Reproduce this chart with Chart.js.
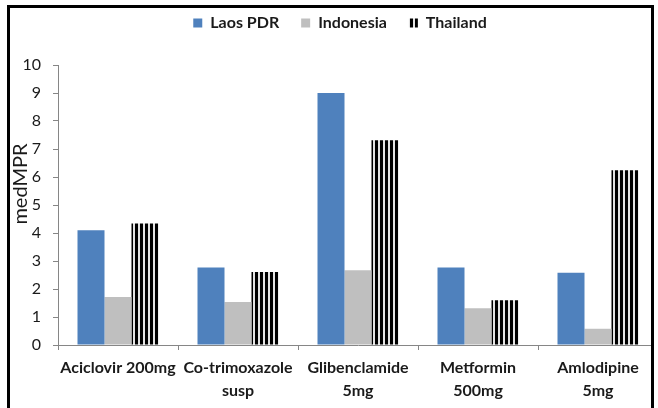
<!DOCTYPE html>
<html>
<head>
<meta charset="utf-8">
<script src="https://cdn.jsdelivr.net/npm/chart.js@4/dist/chart.umd.min.js"></script>
<style>
  html, body { margin: 0; padding: 0; background: #fff; overflow: hidden; width: 658px; height: 408px; }
  #wrap { position: relative; width: 658px; height: 408px; overflow: hidden; }
  #c { position: absolute; left: 0; top: 0; }
  #frame {
    position: absolute; left: 7px; top: 5px; width: 641px; height: 420px;
    border: 3px solid #000; box-shadow: 0 0 0 200px #fff; pointer-events: none;
  }
</style>
</head>
<body>
<div id="wrap">
  <canvas id="c" width="700" height="408"></canvas>
  <div id="frame"></div>
</div>
<script>
// Median price ratios by medicine and country
const categories = [
  ['Aciclovir 200mg'],
  ['Co-trimoxazole', 'susp'],
  ['Glibenclamide', '5mg'],
  ['Metformin', '500mg'],
  ['Amlodipine', '5mg']
];
const seriesNames = ['Laos PDR', 'Indonesia', 'Thailand'];
const laosValues      = [4.10, 2.77, 9.00, 2.77, 2.58];
const indonesiaValues = [1.71, 1.54, 2.67, 1.31, 0.58];
const thailandValues  = [4.34, 2.61, 7.31, 1.60, 6.24];
const yTicks = [0, 1, 2, 3, 4, 5, 6, 7, 8, 9, 10];
const yTitle = 'medMPR';

// Vertical stripe fill for the Thailand series
function stripePattern(ctx) {
  const p = document.createElement('canvas');
  p.width = 5; p.height = 4;
  const g = p.getContext('2d');
  g.fillStyle = '#e4e4e4';
  g.fillRect(0, 0, 5, 4);
  g.fillStyle = '#000';
  g.fillRect(0, 0, 3, 4);
  return ctx.createPattern(p, 'repeat');
}

const canvas = document.getElementById('c');
const ctx = canvas.getContext('2d');
const axisGrey = '#868686';
const textColor = '#1a1a1a';

// Empty layout box that leaves a gap between the legend and the plot
const legendGap = {
  id: 'legendGap',
  beforeInit(chart) {
    const box = {
      position: 'top', weight: 500, fullSize: true,
      options: { stack: undefined, stackWeight: 1 },
      width: 0, height: 0, left: 0, top: 0, right: 0, bottom: 0,
      isHorizontal() { return true; },
      getPadding() { return { top: 0, left: 0, bottom: 0, right: 0 }; },
      update(maxWidth) { this.width = maxWidth; this.height = 24; return { width: this.width, height: this.height }; },
      draw() {}
    };
    Chart.layouts.addBox(chart, box);
  },
  // nudge the legend row so it sits centred over the frame
  afterLayout(chart) {
    if (chart.legend) { chart.legend.left += 11; chart.legend.right += 11; }
  }
};

// Rotated value-axis title, set a little above the plot's middle
const axisTitle = {
  id: 'axisTitle',
  afterDraw(chart) {
    const c = chart.ctx;
    c.save();
    c.translate(21, 184);
    c.rotate(-Math.PI / 2);
    c.font = '20px Lato';
    c.fillStyle = textColor;
    c.textAlign = 'center';
    c.textBaseline = 'middle';
    c.fillText(yTitle, 0, 0);
    c.restore();
  }
};

new Chart(ctx, {
  type: 'bar',
  data: {
    labels: categories,
    datasets: [
      { label: seriesNames[0], data: laosValues, backgroundColor: '#4F81BD' },
      { label: seriesNames[1], data: indonesiaValues, backgroundColor: '#BFBFBF' },
      { label: seriesNames[2], data: thailandValues, backgroundColor: stripePattern(ctx) }
    ]
  },
  plugins: [legendGap, axisTitle],
  options: {
    responsive: false,
    animation: false,
    devicePixelRatio: 1,
    layout: { padding: { left: 0, right: 42, top: -7, bottom: 0 } },
    datasets: { bar: { categoryPercentage: 0.675, barPercentage: 1.0, borderWidth: 0 } },
    plugins: {
      tooltip: { enabled: false },
      legend: {
        position: 'top',
        align: 'center',
        labels: {
          boxWidth: 9, boxHeight: 9, padding: 22,
          color: textColor,
          font: { family: 'Lato', size: 16, weight: 'bold' }
        }
      }
    },
    scales: {
      x: {
        offset: true,
        afterFit: s => { s.height = 63; },
        border: { color: axisGrey, width: 1 },
        grid: { offset: true, drawOnChartArea: false, drawTicks: true, tickLength: 5, color: axisGrey },
        ticks: {
          color: textColor, maxRotation: 0, autoSkip: false, padding: 7,
          font: { family: 'Lato', size: 16, weight: 'bold', lineHeight: 1.4 }
        }
      },
      y: {
        min: 0, max: 10,
        afterFit: s => { s.width = 58; },
        afterBuildTicks: s => { s.ticks = yTicks.map(v => ({ value: v })); },
        border: { color: axisGrey, width: 1 },
        grid: { drawOnChartArea: false, drawTicks: true, tickLength: 5, color: axisGrey },
        ticks: {
          color: textColor, padding: 12,
          font: { family: 'Lato', size: 16 }
        }
      }
    }
  }
});
</script>
</body>
</html>
